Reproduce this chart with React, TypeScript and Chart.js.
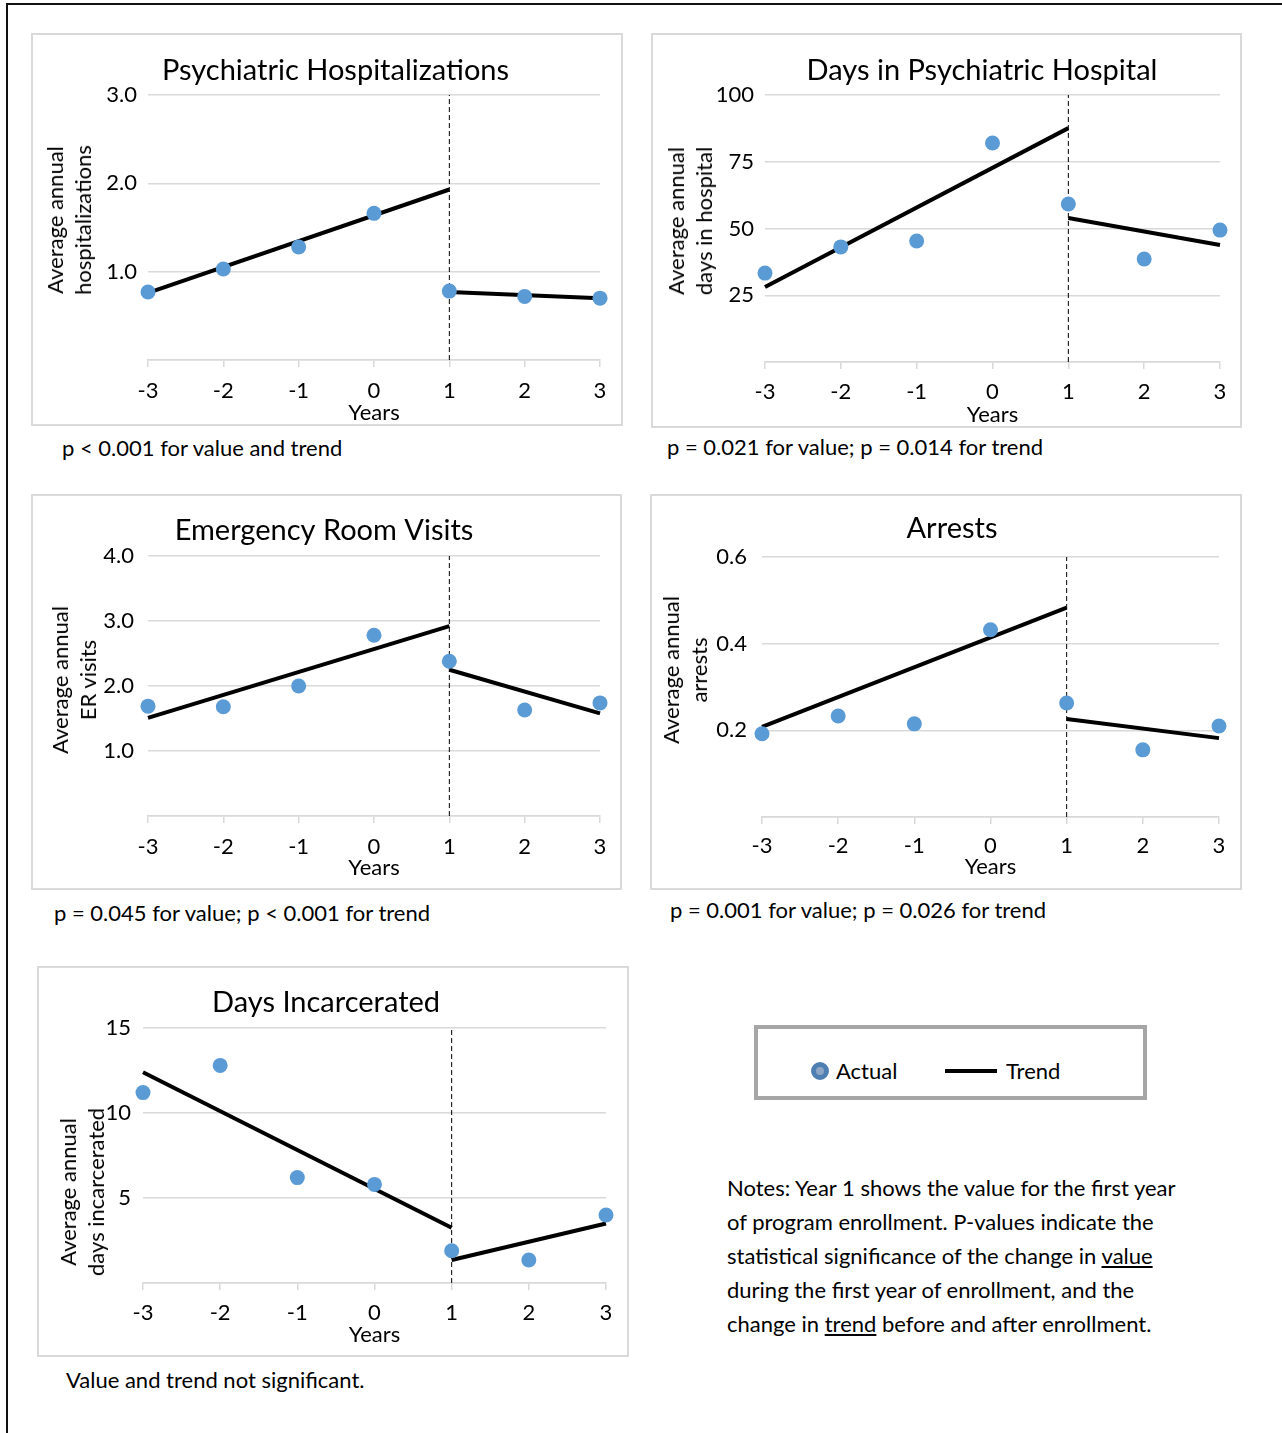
import React, { useEffect, useRef } from "react";
import { Chart, registerables } from "chart.js";

Chart.register(...registerables);

const FONT = "Lato, 'Open Sans', sans-serif";

// ---------- data ----------
const years = [-3, -2, -1, 0, 1, 2, 3];
const preYears = [-3, 1];
const postYears = [1, 3];

const hospActual = [0.77, 1.03, 1.28, 1.66, 0.78, 0.72, 0.7];
const hospTrendPre = [0.76, 1.93];
const hospTrendPost = [0.77, 0.7];
const hospYTicks = [1, 2, 3];
const hospYLabels = ["1.0", "2.0", "3.0"];

const daysHospActual = [33.3, 43.1, 45.3, 82.0, 59.2, 38.6, 49.4];
const daysHospTrendPre = [28.1, 87.6];
const daysHospTrendPost = [53.9, 43.8];
const daysHospYTicks = [25, 50, 75, 100];
const daysHospYLabels = ["25", "50", "75", "100"];

const erActual = [1.69, 1.68, 2.0, 2.78, 2.38, 1.63, 1.74];
const erTrendPre = [1.51, 2.92];
const erTrendPost = [2.25, 1.58];
const erYTicks = [1, 2, 3, 4];
const erYLabels = ["1.0", "2.0", "3.0", "4.0"];

const arrestActual = [0.192, 0.233, 0.215, 0.432, 0.263, 0.155, 0.21];
const arrestTrendPre = [0.208, 0.483];
const arrestTrendPost = [0.226, 0.182];
const arrestYTicks = [0.2, 0.4, 0.6];
const arrestYLabels = ["0.2", "0.4", "0.6"];

const incActual = [11.2, 12.8, 6.2, 5.8, 1.9, 1.35, 4.0];
const incTrendPre = [12.4, 3.25];
const incTrendPost = [1.35, 3.5];
const incYTicks = [5, 10, 15];
const incYLabels = ["5", "10", "15"];

const xTickLabels = ["-3", "-2", "-1", "0", "1", "2", "3"];

type Panel = {
  title: string;
  yTitle: string[];
  note: string;
  actual: number[];
  pre: number[];
  post: number[];
  yMax: number;
  yTicks: number[];
  yLabels: string[];
  box: { x: number; y: number; w: number; h: number };
  plot: { l: number; r: number; t: number; b: number };
  titleC: { x: number; y: number };
  yTitleC: { x: number; y: number };
  yLabPad: number;
  xLabY: number;
  xTitleY: number;
  noteXY: { x: number; y: number };
};

const panels: Panel[] = [
  {
    title: "Psychiatric Hospitalizations",
    yTitle: ["Average annual", "hospitalizations"],
    note: "p < 0.001 for value and trend",
    actual: hospActual, pre: hospTrendPre, post: hospTrendPost,
    yMax: 3, yTicks: hospYTicks, yLabels: hospYLabels,
    box: { x: 31, y: 33, w: 592, h: 393 },
    plot: { l: 148, r: 600, t: 95, b: 360 },
    titleC: { x: 335.5, y: 71 },
    yTitleC: { x: 69, y: 220 },
    yLabPad: 11, xLabY: 391, xTitleY: 413,
    noteXY: { x: 62, y: 448 },
  },
  {
    title: "Days in Psychiatric Hospital",
    yTitle: ["Average annual", "days in hospital"],
    note: "p = 0.021 for value; p = 0.014 for trend",
    actual: daysHospActual, pre: daysHospTrendPre, post: daysHospTrendPost,
    yMax: 100, yTicks: daysHospYTicks, yLabels: daysHospYLabels,
    box: { x: 651, y: 33, w: 591, h: 395 },
    plot: { l: 765, r: 1220, t: 95, b: 362 },
    titleC: { x: 982, y: 71 },
    yTitleC: { x: 690, y: 221 },
    yLabPad: 11, xLabY: 392, xTitleY: 415,
    noteXY: { x: 667, y: 447 },
  },
  {
    title: "Emergency Room Visits",
    yTitle: ["Average annual", "ER visits"],
    note: "p = 0.045 for value; p < 0.001 for trend",
    actual: erActual, pre: erTrendPre, post: erTrendPost,
    yMax: 4, yTicks: erYTicks, yLabels: erYLabels,
    box: { x: 31, y: 494, w: 591, h: 396 },
    plot: { l: 148, r: 600, t: 556, b: 816 },
    titleC: { x: 324, y: 531 },
    yTitleC: { x: 74, y: 680 },
    yLabPad: 14, xLabY: 847, xTitleY: 868,
    noteXY: { x: 54, y: 913 },
  },
  {
    title: "Arrests",
    yTitle: ["Average annual", "arrests"],
    note: "p = 0.001 for value; p = 0.026 for trend",
    actual: arrestActual, pre: arrestTrendPre, post: arrestTrendPost,
    yMax: 0.6, yTicks: arrestYTicks, yLabels: arrestYLabels,
    box: { x: 650, y: 494, w: 592, h: 396 },
    plot: { l: 762, r: 1219, t: 557, b: 817 },
    titleC: { x: 952, y: 529 },
    yTitleC: { x: 685, y: 670 },
    yLabPad: 15, xLabY: 846, xTitleY: 867,
    noteXY: { x: 670, y: 910 },
  },
  {
    title: "Days Incarcerated",
    yTitle: ["Average annual", "days incarcerated"],
    note: "Value and trend not significant.",
    actual: incActual, pre: incTrendPre, post: incTrendPost,
    yMax: 15, yTicks: incYTicks, yLabels: incYLabels,
    box: { x: 37, y: 966, w: 592, h: 391 },
    plot: { l: 143, r: 606, t: 1028, b: 1283 },
    titleC: { x: 326, y: 1003 },
    yTitleC: { x: 81.5, y: 1192 },
    yLabPad: 12, xLabY: 1313, xTitleY: 1335,
    noteXY: { x: 66, y: 1380 },
  },
];

const TITLE_SIZE = 29;
const TICK_SIZE = 22;
const TEXT_SIZE = 22;
const TICK_LEN = 7;
const GRID = "#d9d9d9";

function PanelChart({ p }: { p: Panel }) {
  const ref = useRef<HTMLCanvasElement | null>(null);
  const canvasLeft = p.box.x;
  const canvasTop = p.box.y;
  const canvasW = Math.round(2 * (p.titleC.x - p.box.x));
  const canvasH = p.box.h;

  useEffect(() => {
    if (!ref.current) return;
    const titleLH = TITLE_SIZE * 1.2;
    const tickLH = TICK_SIZE * 1.2;
    const titleBoxH = p.plot.t - canvasTop;
    const titlePadTop = p.titleC.y - canvasTop - titleLH / 2;
    const titlePadBottom = titleBoxH - titleLH - titlePadTop;
    const yW = p.plot.l - canvasLeft;
    const padR = canvasW - (p.plot.r - canvasLeft);
    const xH = canvasTop + canvasH - p.plot.b;
    const xTickPad = p.xLabY - p.plot.b - TICK_LEN - tickLH / 2;
    const xTitlePadBottom = canvasTop + canvasH - p.xTitleY - tickLH / 2;

    const chart = new Chart(ref.current, {
      type: "scatter",
      data: {
        datasets: [
          {
            label: "Actual",
            data: years.map((x, i) => ({ x, y: p.actual[i] })),
            backgroundColor: "#5b9bd5",
            borderColor: "#5b9bd5",
            pointRadius: 7.5,
            pointBorderWidth: 0,
            showLine: false,
            order: 0,
            clip: false,
          } as any,
          {
            label: "Trend",
            data: preYears.map((x, i) => ({ x, y: p.pre[i] })),
            showLine: true,
            borderColor: "#000",
            borderWidth: 4,
            pointRadius: 0,
            order: 1,
            clip: false,
          } as any,
          {
            label: "Trend (after)",
            data: postYears.map((x, i) => ({ x, y: p.post[i] })),
            showLine: true,
            borderColor: "#000",
            borderWidth: 4,
            pointRadius: 0,
            order: 1,
            clip: false,
          } as any,
          {
            label: "Enrollment",
            data: [
              { x: 1, y: 0 },
              { x: 1, y: p.yMax },
            ],
            showLine: true,
            borderColor: "#000",
            borderWidth: 1,
            borderDash: [5, 3],
            pointRadius: 0,
            order: 2,
          } as any,
        ],
      },
      options: {
        animation: false,
        responsive: false,
        maintainAspectRatio: false,
        devicePixelRatio: 1,
        events: [],
        layout: { padding: 0 },
        plugins: {
          legend: { display: false },
          tooltip: { enabled: false },
          title: {
            display: true,
            text: p.title,
            color: "#000",
            font: { family: FONT, size: TITLE_SIZE, weight: "normal", lineHeight: 1.2 },
            padding: { top: titlePadTop, bottom: titlePadBottom },
          },
        },
        scales: {
          x: {
            type: "linear",
            min: -3,
            max: 3,
            afterBuildTicks: (s: any) => {
              s.ticks = years.map((v) => ({ value: v }));
            },
            ticks: {
              color: "#000",
              font: { family: FONT, size: TICK_SIZE, lineHeight: 1.2 },
              padding: xTickPad,
              maxRotation: 0,
              autoSkip: false,
              callback: (_v: any, i: number) => xTickLabels[i],
            },
            grid: {
              drawOnChartArea: false,
              drawTicks: true,
              tickLength: TICK_LEN,
              color: GRID,
              lineWidth: 1.5,
            },
            border: { display: true, color: GRID, width: 1.5 },
            title: {
              display: true,
              text: "Years",
              color: "#000",
              font: { family: FONT, size: TICK_SIZE, lineHeight: 1.2 },
              padding: { top: 0, bottom: xTitlePadBottom },
            },
            afterFit: (s: any) => {
              s.height = xH;
              s.paddingLeft = 0;
              s.paddingRight = padR;
            },
          },
          y: {
            type: "linear",
            min: 0,
            max: p.yMax,
            afterBuildTicks: (s: any) => {
              s.ticks = [0, ...p.yTicks].map((v) => ({ value: v }));
            },
            ticks: {
              color: "#000",
              font: { family: FONT, size: TICK_SIZE, lineHeight: 1.2 },
              padding: p.yLabPad,
              autoSkip: false,
              callback: (_v: any, i: number) => (i === 0 ? "" : p.yLabels[i - 1]),
            },
            grid: { drawTicks: false, color: GRID, lineWidth: 1.5 },
            border: { display: false },
            afterFit: (s: any) => {
              s.width = yW;
              s.paddingTop = 0;
              s.paddingBottom = 0;
            },
          },
        },
      } as any,
    });
    return () => chart.destroy();
  }, []);

  return (
    <>
      <div
        style={{
          position: "absolute",
          left: p.box.x,
          top: p.box.y,
          width: p.box.w,
          height: p.box.h,
          border: `2px solid ${GRID}`,
          boxSizing: "border-box",
        }}
      />
      <canvas
        ref={ref}
        width={canvasW}
        height={canvasH}
        style={{
          position: "absolute",
          left: canvasLeft,
          top: canvasTop,
          width: canvasW,
          height: canvasH,
        }}
      />
      <div
        style={{
          position: "absolute",
          left: p.yTitleC.x,
          top: p.yTitleC.y,
          transform: "translate(-50%, -50%) rotate(-90deg)",
          fontSize: TEXT_SIZE,
          lineHeight: "28px",
          textAlign: "center",
          whiteSpace: "nowrap",
          color: "#000",
        }}
      >
        {p.yTitle[0]}
        <br />
        {p.yTitle[1]}
      </div>
      <div
        style={{
          position: "absolute",
          left: p.noteXY.x,
          top: p.noteXY.y - 13,
          fontSize: TEXT_SIZE,
          lineHeight: "26px",
          whiteSpace: "nowrap",
          color: "#000",
        }}
      >
        {p.note}
      </div>
    </>
  );
}

export default function App() {
  return (
    <div
      style={{
        position: "absolute",
        left: 0,
        top: 0,
        width: 1282,
        height: 1433,
        overflow: "hidden",
        background: "#fff",
        fontFamily: FONT,
      }}
    >
      <div
        style={{
          position: "absolute",
          left: 6,
          top: 3,
          width: 1400,
          height: 1500,
          borderTop: "2px solid #111",
          borderLeft: "2px solid #111",
        }}
      />
      {panels.map((p, i) => (
        <PanelChart key={i} p={p} />
      ))}

      {/* legend */}
      <div
        style={{
          position: "absolute",
          left: 754,
          top: 1025,
          width: 393,
          height: 75,
          border: "4px solid #a6a6a6",
          boxSizing: "border-box",
        }}
      />
      <div
        style={{
          position: "absolute",
          left: 811,
          top: 1062,
          width: 18,
          height: 18,
          borderRadius: "50%",
          background: "#8ea6c4",
          border: "5px solid #4f7fb2",
          boxSizing: "border-box",
        }}
      />
      <div style={{ position: "absolute", left: 836, top: 1058, fontSize: TEXT_SIZE, lineHeight: "26px" }}>
        Actual
      </div>
      <div
        style={{
          position: "absolute",
          left: 945,
          top: 1069,
          width: 52,
          height: 4,
          background: "#000",
        }}
      />
      <div style={{ position: "absolute", left: 1006, top: 1058, fontSize: TEXT_SIZE, lineHeight: "26px" }}>
        Trend
      </div>

      {/* notes */}
      <div
        style={{
          position: "absolute",
          left: 727,
          top: 1171,
          fontSize: TEXT_SIZE,
          lineHeight: "34px",
          whiteSpace: "nowrap",
          color: "#000",
        }}
      >
        Notes: Year 1 shows the value for the first year
        <br />
        of program enrollment. P-values indicate the
        <br />
        statistical significance of the change in <u>value</u>
        <br />
        during the first year of enrollment, and the
        <br />
        change in <u>trend</u> before and after enrollment.
      </div>
    </div>
  );
}
